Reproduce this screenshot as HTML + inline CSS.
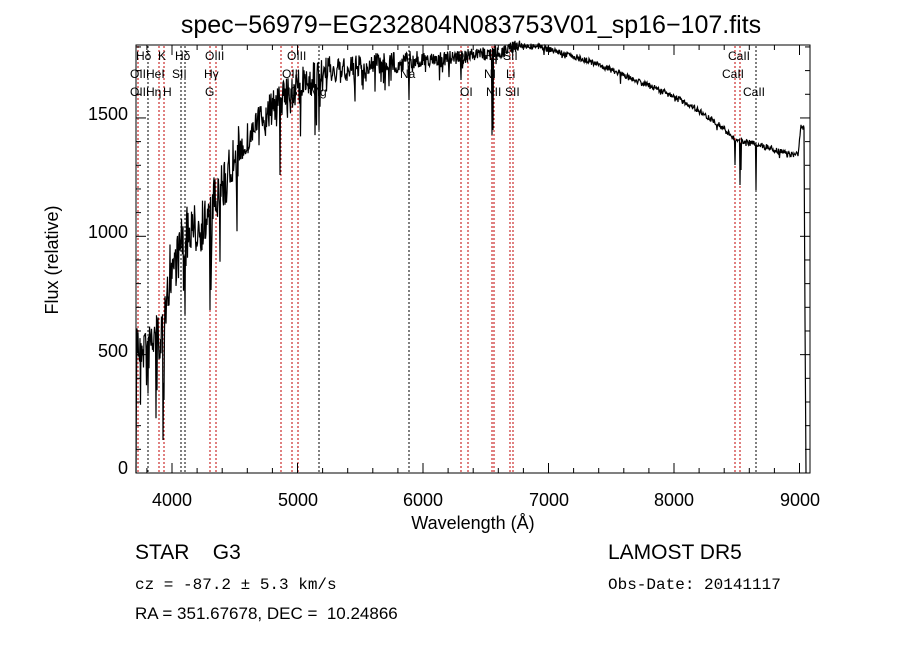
<!DOCTYPE html>
<html><head><meta charset="utf-8"><style>
html,body{margin:0;padding:0;background:#fff;}
svg text{font-family:"Liberation Sans",sans-serif;fill:#000;white-space:pre;}
</style></head><body>
<svg id="s" width="900" height="649" xmlns="http://www.w3.org/2000/svg">
<rect width="900" height="649" fill="#fff"/>
<text x="471" y="33" font-size="25" text-anchor="middle">spec−56979−EG232804N083753V01_sp16−107.fits</text>
<g id="vl"></g>
<path id="spec" fill="none" stroke="#000" stroke-width="1.2"/>
<rect x="136" y="45" width="674" height="428" fill="none" stroke="#000" stroke-width="1"/>
<g id="ticks" stroke="#000" stroke-width="1"></g>
<g font-size="18">
<text x="172" y="506" text-anchor="middle">4000</text>
<text x="298" y="506" text-anchor="middle">5000</text>
<text x="423" y="506" text-anchor="middle">6000</text>
<text x="549" y="506" text-anchor="middle">7000</text>
<text x="674" y="506" text-anchor="middle">8000</text>
<text x="800" y="506" text-anchor="middle">9000</text>
<text x="128" y="474" text-anchor="end">0</text>
<text x="128" y="357" text-anchor="end">500</text>
<text x="128" y="238" text-anchor="end">1000</text>
<text x="128" y="120" text-anchor="end">1500</text>
</g>
<text x="473" y="529" font-size="18" text-anchor="middle">Wavelength (Å)</text>
<text transform="translate(58,260) rotate(-90)" font-size="18" text-anchor="middle">Flux (relative)</text>
<g font-size="12">
<text x="136" y="60">Hδ</text><text x="158" y="60">K</text><text x="175" y="60">Hδ</text><text x="205" y="60">OIII</text>
<text x="130" y="78">OIIHeI</text><text x="172" y="78">SII</text><text x="204" y="78">Hγ</text>
<text x="130" y="96">OIIHη</text><text x="163" y="96">H</text><text x="205" y="96">G</text>
<text x="287" y="60">OIII</text><text x="282" y="78">OII</text><text x="282" y="96">Hβ</text><text x="310" y="96">Mg</text>
<text x="400" y="78">Na</text>
<text x="455" y="60">OI</text><text x="460" y="96">OI</text>
<text x="483" y="60">Hα</text><text x="484" y="78">NI</text><text x="486" y="96">NII</text>
<text x="503" y="60">SII</text><text x="506" y="78">Li</text><text x="505" y="96">SII</text>
<text x="728" y="60">CaII</text><text x="722" y="78">CaII</text><text x="743" y="96">CaII</text>
</g>
<text x="135" y="559" font-size="21">STAR    G3</text>
<text x="135" y="589" font-size="16" style="font-family:'Liberation Mono',monospace">cz = -87.2 ± 5.3 km/s</text>
<text x="135" y="619" font-size="17">RA = 351.67678, DEC =  10.24866</text>
<text x="608" y="559" font-size="21">LAMOST DR5</text>
<text x="608" y="589" font-size="16" style="font-family:'Liberation Mono',monospace">Obs-Date: 20141117</text>
</svg>
<script>
function X(w){return 172+(w-4000)*0.1255;}
var t=document.getElementById('ticks'),h='';
for(var w=3800;w<=9000;w+=200){var x=X(w),L=(w%1000==0)?10:5;h+='<line x1="'+x+'" y1="473" x2="'+x+'" y2="'+(473-L)+'"/><line x1="'+x+'" y1="45" x2="'+x+'" y2="'+(45+L)+'"/>';}
for(var f=0;f<=1800;f+=100){var y=473-f*0.2367,L=(f%500==0)?10:5;h+='<line x1="136" y1="'+y+'" x2="'+(136+L)+'" y2="'+y+'"/><line x1="810" y1="'+y+'" x2="'+(810-L)+'" y2="'+y+'"/>';}
t.innerHTML=h;
var lines=[[138,1],[148,0],[159,1],[164,1],[181,0],[185,0],[210,1],[216,1],[281,1],[292,1],[298,1],[319,0],[409,0],[461,1],[468,1],[492,1],[494,1],[510,1],[513,1],[735,1],[740,1],[756,0]];
var v='';lines.forEach(function(l){v+='<line x1="'+l[0]+'" y1="46" x2="'+l[0]+'" y2="473" stroke="'+(l[1]?'#c00000':'#000')+'" stroke-width="1" stroke-dasharray="2,2"/>';});
document.getElementById('vl').innerHTML=v;
var cont=[[136,473],[137,340],[140,345],[150,345],[160,335],[166,320],[170,270],[178,255],[185,235],[200,225],[210,220],[215,200],[225,180],[240,150],[260,120],[280,100],[300,85],[330,72],[360,65],[400,62],[450,58],[500,52],[515,45],[540,47],[570,55],[600,65],[630,78],[660,90],[690,105],[720,125],[735,140],[760,145],[790,155],[798,155],[801,125],[804,128]];
var dips={163:440,164:400,210:310,211:290,280:175,319:130,409:100,461:80,492:135,493:130,735:165,740:185,741:170,756:190};
var seed=7;function rnd(){seed=(seed*16807)%2147483647;return seed/2147483647;}
function C(x){for(var i=0;i<cont.length-1;i++){if(x>=cont[i][0]&&x<=cont[i+1][0]){var a=cont[i],b=cont[i+1];return a[1]+(b[1]-a[1])*(x-a[0])/(b[0]-a[0]);}}return 128;}
var d='M136,473';
for(var x=136.5;x<=804;x+=0.5){var y=C(x);var amp=x<240?55:(x<330?34:(x<420?22:(x<520?14:6)));y+=(rnd()-0.5)*amp;if(rnd()<(x<420?0.12:0.04))y+=rnd()*amp*1.3;var k=Math.round(x);if(dips[k]&&Math.abs(x-k)<0.3)y=dips[k];d+=' L'+x.toFixed(1)+','+y.toFixed(1);}
d+=' L805,320 L806,473';
document.getElementById('spec').setAttribute('d',d);
</script>
</body></html>
